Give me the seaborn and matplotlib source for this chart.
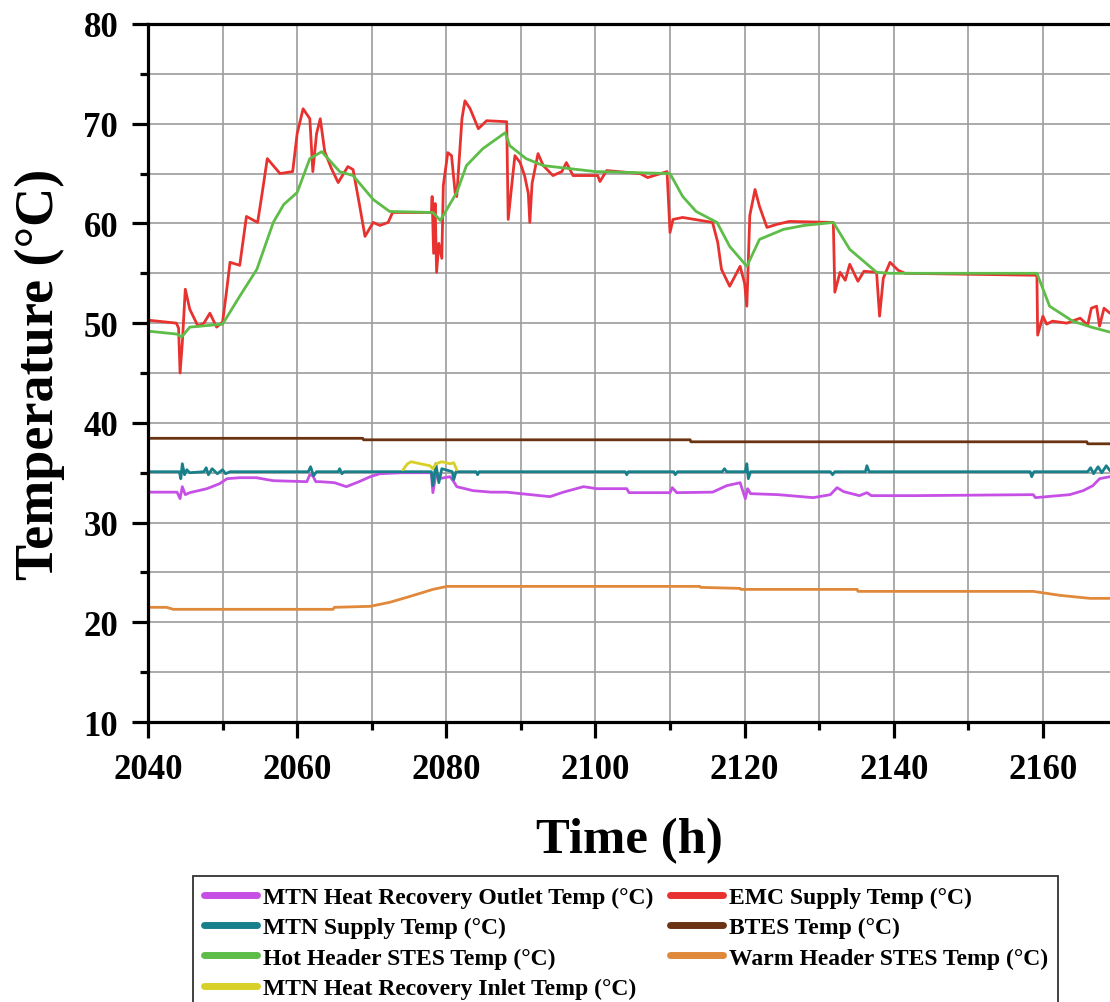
import numpy as np
import pandas as pd
import matplotlib
matplotlib.use("Agg")
import matplotlib.pyplot as plt
from matplotlib.ticker import MultipleLocator
import seaborn as sns

# --- data (time in h, temperature in °C) ---
emc_t = [2040.0, 2043.8, 2044.1, 2044.3, 2044.6, 2045.0, 2045.6, 2046.7, 2047.5, 2048.3,
         2049.2, 2050.0, 2050.5, 2051.0, 2052.3, 2053.2, 2054.7, 2055.3, 2056.0, 2057.7,
         2059.4, 2060.0, 2060.8, 2061.7, 2062.1, 2062.6, 2063.1, 2063.7, 2064.6, 2065.5,
         2066.8, 2067.5, 2068.4, 2069.1, 2070.2, 2071.1, 2072.2, 2072.8, 2078.0, 2078.1,
         2078.3, 2078.5, 2078.7, 2079.0, 2079.4, 2079.6, 2080.2, 2080.7, 2081.2, 2081.4,
         2082.1, 2082.5, 2083.2, 2084.3, 2085.4, 2088.1, 2088.3, 2088.8, 2089.2, 2089.9,
         2090.5, 2091.0, 2091.2, 2091.5, 2092.3, 2093.0, 2094.3, 2095.5, 2096.1, 2097.0,
         2100.3, 2100.6, 2101.5, 2106.0, 2107.0, 2109.6, 2110.0, 2110.4, 2111.7, 2115.7,
         2116.4, 2116.9, 2118.0, 2119.4, 2120.0, 2120.3, 2120.7, 2121.4, 2122.0, 2123.0,
         2124.3, 2126.0, 2131.9, 2132.1, 2132.8, 2133.5, 2134.1, 2135.2, 2136.0, 2137.7,
         2138.1, 2138.6, 2139.5, 2140.6, 2141.5, 2159.2, 2159.3, 2160.0, 2160.5, 2161.3,
         2163.2, 2165.0, 2166.0, 2166.5, 2167.2, 2167.6, 2168.2, 2169.0]
emc_T = [50.3, 50.0, 49.5, 45.0, 48.0, 53.4, 51.4, 49.7, 50.0, 51.0,
         49.6, 50.1, 53.0, 56.1, 55.8, 60.7, 60.1, 63.0, 66.5, 65.0,
         65.2, 69.0, 71.5, 70.5, 65.2, 69.0, 70.5, 67.2, 65.5, 64.1,
         65.7, 65.4, 61.7, 58.7, 60.1, 59.8, 60.1, 61.1, 61.1, 62.7,
         57.0, 62.0, 55.1, 58.0, 56.5, 63.8, 67.1, 66.8, 63.0, 62.7,
         70.5, 72.3, 71.5, 69.5, 70.3, 70.2, 60.4, 64.0, 66.8, 66.1,
         64.8, 63.0, 60.1, 64.0, 67.0, 65.8, 64.8, 65.2, 66.1, 64.8,
         64.8, 64.2, 65.3, 65.0, 64.6, 65.2, 59.1, 60.4, 60.6, 60.1,
         58.1, 55.4, 53.7, 55.7, 54.0, 51.7, 60.8, 63.4, 61.7, 59.6,
         59.9, 60.2, 60.1, 53.1, 55.1, 54.3, 55.9, 54.2, 55.2, 55.1,
         50.7, 54.5, 56.1, 55.3, 55.0, 54.8, 48.8, 50.7, 49.9, 50.2,
         50.0, 50.5, 49.8, 51.5, 51.7, 49.7, 51.5, 51.0]

hot_t = [2040.0, 2043.9, 2044.5, 2045.6, 2050.0, 2052.3, 2054.6, 2056.8, 2058.2, 2060.0,
         2061.7, 2063.3, 2065.7, 2067.5, 2070.2, 2072.4, 2078.2, 2079.2, 2081.4, 2082.7,
         2084.9, 2087.9, 2088.5, 2090.7, 2093.0, 2100.0, 2110.0, 2111.7, 2113.5, 2116.3,
         2118.0, 2120.3, 2122.0, 2125.2, 2128.0, 2131.9, 2134.1, 2137.7, 2139.5, 2159.2,
         2160.9, 2164.0, 2166.5, 2169.0]
hot_T = [49.2, 48.9, 48.6, 49.6, 49.9, 52.7, 55.4, 60.1, 61.9, 63.1,
         66.5, 67.2, 65.2, 64.8, 62.4, 61.2, 61.1, 60.3, 63.1, 65.8,
         67.5, 69.1, 67.8, 66.5, 65.8, 65.2, 65.0, 62.7, 61.2, 60.1,
         57.7, 55.7, 58.4, 59.4, 59.8, 60.1, 57.4, 55.1, 55.0, 55.0,
         51.7, 50.2, 49.6, 49.1]

btes_t = [2040.0, 2068.8, 2068.9, 2112.7, 2112.8, 2165.9, 2166.0, 2169.0]
btes_T = [38.45, 38.45, 38.3, 38.3, 38.1, 38.1, 37.9, 37.9]

sup_t = [2040.0, 2044.2, 2044.4, 2044.6, 2044.9, 2045.2, 2045.6, 2047.5, 2047.8, 2048.1,
         2048.6, 2049.3, 2050.0, 2050.4, 2051.0, 2061.5, 2061.8, 2062.2, 2062.6, 2065.5,
         2065.7, 2066.0, 2066.3, 2078.0, 2078.2, 2078.6, 2079.0, 2079.4, 2080.8, 2081.0,
         2081.3, 2084.0, 2084.2, 2084.4, 2104.0, 2104.2, 2104.4, 2110.5, 2110.7, 2111.0,
         2117.0, 2117.3, 2117.6, 2120.1, 2120.3, 2120.5, 2120.8, 2131.5, 2131.8, 2132.1,
         2136.2, 2136.4, 2136.7, 2158.3, 2158.5, 2158.8, 2166.0, 2166.4, 2166.8, 2167.4,
         2167.9, 2168.5, 2169.0]
sup_T = [35.1, 35.1, 34.4, 35.9, 34.8, 35.3, 35.0, 35.1, 35.5, 34.8,
         35.4, 34.9, 35.3, 34.9, 35.1, 35.1, 35.6, 34.7, 35.1, 35.1,
         35.4, 34.9, 35.1, 35.1, 33.7, 35.9, 34.0, 35.4, 35.1, 34.3,
         35.1, 35.1, 34.8, 35.1, 35.1, 34.8, 35.1, 35.1, 34.8, 35.1,
         35.1, 35.4, 35.1, 35.1, 35.9, 34.4, 35.1, 35.1, 34.8, 35.1,
         35.1, 35.7, 35.1, 35.1, 34.6, 35.1, 35.1, 35.5, 34.9, 35.6,
         35.0, 35.7, 35.2]

out_t = [2040.0, 2043.9, 2044.3, 2044.6, 2045.0, 2045.6, 2047.9, 2049.6, 2050.6, 2052.3,
         2054.5, 2056.8, 2061.3, 2061.7, 2062.1, 2062.5, 2063.1, 2065.0, 2066.6, 2068.3,
         2069.8, 2071.1, 2074.0, 2078.0, 2078.2, 2078.6, 2079.0, 2080.5, 2081.0, 2081.4,
         2083.6, 2086.0, 2088.1, 2090.0, 2093.9, 2095.7, 2098.4, 2100.2, 2104.2, 2104.5,
         2110.0, 2110.3, 2110.9, 2115.7, 2117.6, 2119.4, 2120.1, 2120.4, 2120.8, 2124.5,
         2129.2, 2131.5, 2132.4, 2133.3, 2135.4, 2136.4, 2137.0, 2142.6, 2158.7, 2159.0,
         2163.6, 2165.4, 2166.7, 2167.6, 2169.0]
out_T = [33.05, 33.05, 32.4, 33.6, 32.8, 33.0, 33.4, 33.9, 34.4, 34.5,
         34.5, 34.2, 34.1, 34.8, 34.7, 34.1, 34.1, 34.0, 33.6, 34.1,
         34.6, 34.9, 35.0, 35.0, 33.0, 34.8, 34.4, 34.6, 34.1, 33.6,
         33.2, 33.05, 33.05, 32.9, 32.6, 33.05, 33.6, 33.4, 33.4, 33.0,
         33.0, 33.5, 33.0, 33.05, 33.7, 34.0, 32.4, 33.4, 32.9, 32.8,
         32.5, 32.8, 33.5, 33.1, 32.7, 33.0, 32.7, 32.7, 32.8, 32.5,
         32.8, 33.2, 33.7, 34.4, 34.6]

warm_t = [2040.0, 2042.5, 2043.4, 2064.8, 2065.0, 2069.8, 2072.4, 2074.7, 2076.9, 2078.2,
          2080.1, 2114.0, 2114.1, 2119.4, 2119.5, 2135.1, 2135.2, 2158.7, 2162.3, 2166.3,
          2169.0]
warm_T = [21.5, 21.5, 21.3, 21.3, 21.5, 21.6, 22.0, 22.5, 23.0, 23.3,
          23.6, 23.6, 23.5, 23.4, 23.3, 23.3, 23.1, 23.1, 22.7, 22.4,
          22.4]

inlet_t = [2074.2, 2074.8, 2075.3, 2076.5, 2077.8, 2078.2, 2078.6, 2079.4, 2080.5, 2081.0, 2081.4]
inlet_T = [35.3, 35.9, 36.1, 35.9, 35.7, 35.4, 35.9, 36.1, 35.9, 36.0, 35.3]

# label, colour, data  (drawing order as in the original plot)
series = [
    ("MTN Heat Recovery Outlet Temp (°C)", "#c650e6", out_t, out_T),
    ("EMC Supply Temp (°C)", "#e8322f", emc_t, emc_T),
    ("MTN Supply Temp (°C)", "#17808a", sup_t, sup_T),
    ("BTES Temp (°C)", "#6a3412", btes_t, btes_T),
    ("Hot Header STES Temp (°C)", "#5dbd48", hot_t, hot_T),
    ("Warm Header STES Temp (°C)", "#e0893a", warm_t, warm_T),
    ("MTN Heat Recovery Inlet Temp (°C)", "#d8d028", inlet_t, inlet_T),
]
legend_order = [0, 2, 4, 6, 1, 3, 5]

sns.set_theme(style="white")
plt.rcParams["font.family"] = ["Liberation Serif", "DejaVu Serif"]
plt.rcParams["font.weight"] = "bold"
plt.rcParams["text.color"] = "black"
plt.rcParams["axes.labelcolor"] = "black"
plt.rcParams["xtick.color"] = "black"
plt.rcParams["ytick.color"] = "black"

fig = plt.figure(figsize=(11.1, 10.03), dpi=100)
ax = fig.add_axes([148 / 1110, 1 - 723 / 1003, 1 - 148 / 1110, 698 / 1003])

handles = {}
for i, (lab, col, t, T) in enumerate(series):
    df = pd.DataFrame({"t": t, "T": T})
    sns.lineplot(data=df, x="t", y="T", ax=ax, color=col, lw=2.0,
                 estimator=None, sort=False, label=lab, legend=False)
    handles[i] = ax.lines[-1]

ax.set_xlim(2040, 2169)
ax.set_ylim(10, 80)
ax.xaxis.set_major_locator(MultipleLocator(20))
ax.xaxis.set_minor_locator(MultipleLocator(10))
ax.yaxis.set_major_locator(MultipleLocator(10))
ax.yaxis.set_minor_locator(MultipleLocator(5))
ax.grid(which="both", color="#9c9c9c", lw=1.2)
ax.set_axisbelow(True)

for s in ["left", "bottom", "top"]:
    ax.spines[s].set_linewidth(2.3)
    ax.spines[s].set_color("black")
ax.spines["right"].set_visible(False)

ax.tick_params(which="major", direction="out", length=11.5, width=2.3,
               labelsize=25, top=False, right=False, bottom=True, left=True)
ax.tick_params(which="minor", direction="out", length=5.5, width=2.3,
               top=False, right=False, bottom=True, left=True)
ax.tick_params(axis="x", which="major", pad=11)
ax.tick_params(axis="y", which="major", pad=10)
for lbl in ax.get_xticklabels() + ax.get_yticklabels():
    lbl.set_fontweight("bold")

ax.set_xlabel("Time (h)", fontsize=36.5, fontweight="bold", labelpad=22)
ax.set_ylabel("Temperature (°C)", fontsize=39, fontweight="bold", labelpad=13)

leg = fig.legend([handles[i] for i in legend_order],
                 [series[i][0] for i in legend_order],
                 ncol=2, loc="upper left", bbox_to_anchor=(193 / 1110, 1 - 877 / 1003),
                 borderaxespad=0, frameon=True, fancybox=False, edgecolor="black",
                 prop={"family": "Liberation Serif", "weight": "bold", "size": 17},
                 handlelength=2.25, handletextpad=0.25, columnspacing=0.7,
                 labelspacing=0.37, borderpad=0.45)
leg.get_frame().set_linewidth(1.3)
for h in leg.legend_handles:
    h.set_linewidth(5)

fig.savefig("out.png", dpi=100)
